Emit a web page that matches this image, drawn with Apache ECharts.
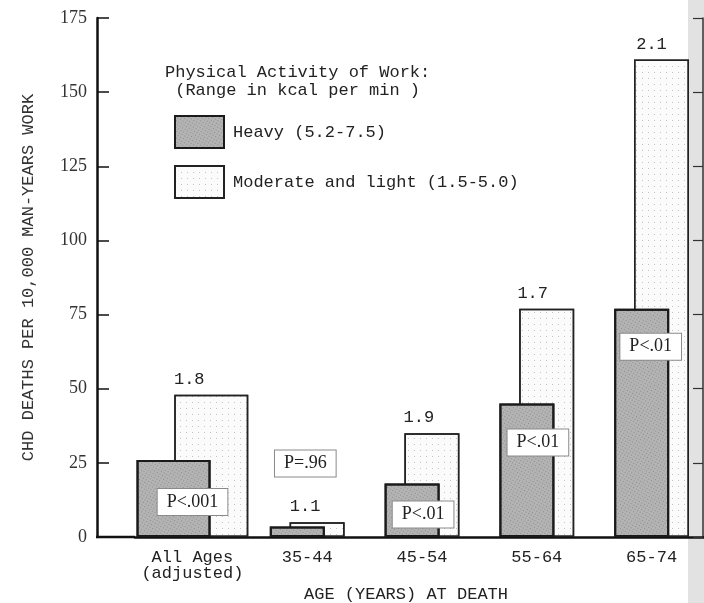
<!DOCTYPE html>
<html><head><meta charset="utf-8">
<script src="https://cdn.jsdelivr.net/npm/echarts@6/dist/echarts.min.js"></script>
<style>html,body{margin:0;padding:0;background:#fff}#c{width:704px;height:603px}</style>
</head><body><div id="c"></div>
<script>
// ---- data ----
const categories = ['All Ages\n(adjusted)', '35-44', '45-54', '55-64', '65-74'];
const heavy = [26, 3.5, 18, 45, 77];
const moderate = [48, 5, 35, 77, 161];
const ratios = ['1.8', '1.1', '1.9', '1.7', '2.1'];
const pValues = ['P<.001', 'P=.96', 'P<.01', 'P<.01', 'P<.01'];
const yMin = 0, yMax = 175, yStep = 25;
const heavyName = 'Heavy (5.2-7.5)';
const moderateName = 'Moderate and light (1.5-5.0)';

// ---- layout / style ----
const MONO = '"Liberation Mono", "DejaVu Sans Mono", monospace';
const SERIF = '"Liberation Serif", "DejaVu Serif", serif';
const gridLeft = 135, gridRight = -5, yAxisX = 97;
const pLabelOffset = [[19, 24], [8, -81], [11, 13], [11, 21], [9, 20]];
const ratioOffset = [[-22, -2], [-12, -2], [-13, -2], [-14, -2], [-10, -2]];

const heavyStyle = {
  color: '#b3b3b3', borderColor: '#1a1a1a', borderWidth: 2,
  decal: { symbol: 'rect', symbolSize: 1, dashArrayX: [1, 2], dashArrayY: [1, 2], color: 'rgba(70,70,70,0.35)' }
};
const moderateStyle = {
  color: '#fbfbfb', borderColor: '#222', borderWidth: 1.5,
  decal: { symbol: 'rect', symbolSize: 1, dashArrayX: [1, 5], dashArrayY: [1, 5], color: 'rgba(0,0,0,0.22)' }
};

function pick(arr, keepFirst) {
  return arr.map((v, i) => (keepFirst ? (i === 0 ? v : '-') : (i === 0 ? '-' : v)));
}
function pLabel(i) {
  return {
    show: true, position: 'insideTop', offset: pLabelOffset[i],
    formatter: pValues[i], backgroundColor: '#fff', borderColor: '#8a8a8a', borderWidth: 1,
    padding: [4, 9], fontFamily: SERIF, fontSize: 18, color: '#222'
  };
}
function ratioLabel(i) {
  return { show: true, position: 'top', offset: ratioOffset[i], formatter: ratios[i],
    fontFamily: MONO, fontSize: 17, color: '#222' };
}
function items(arr, keepFirst, labelFn) {
  return pick(arr, keepFirst).map((v, i) => v === '-' ? '-' : ({ value: v, label: labelFn(i) }));
}

const chart = echarts.init(document.getElementById('c'), null, { renderer: 'canvas' });
const option = {
  animation: false,
  backgroundColor: '#fff',
  aria: { enabled: true, decal: { show: true } },
  title: {
    text: 'Physical Activity of Work:\n (Range in kcal per min )',
    left: 160, top: 58,
    textStyle: { fontFamily: MONO, fontSize: 17, fontWeight: 'normal', color: '#222', lineHeight: 18 }
  },
  legend: {
    data: [heavyName, moderateName], orient: 'vertical', left: 169, top: 110,
    itemWidth: 49, itemHeight: 32, itemGap: 16, icon: 'rect',
    textStyle: { fontFamily: MONO, fontSize: 17, color: '#222', padding: [0, 0, 0, 4] }
  },
  grid: { left: gridLeft, right: gridRight, top: 18, bottom: 66, containLabel: false, outerBoundsMode: 'none' },
  xAxis: [
    {
      type: 'category', data: categories,
      axisLine: { lineStyle: { color: '#111', width: 2.5 } },
      axisTick: { show: false },
      axisLabel: { interval: 0, margin: 12, fontFamily: MONO, fontSize: 17, color: '#222', lineHeight: 16 },
      name: 'AGE (YEARS) AT DEATH', nameLocation: 'middle', nameGap: 49,
      nameTextStyle: { fontFamily: MONO, fontSize: 17, color: '#222', padding: [0, 32, 0, 0] }
    },
    { type: 'category', data: categories, show: false }
  ],
  yAxis: [
    {
      type: 'value', min: yMin, max: yMax, interval: yStep, offset: gridLeft - yAxisX,
      axisLine: { show: true, lineStyle: { color: '#111', width: 2.5 } },
      axisTick: { show: true, inside: true, length: 12, lineStyle: { color: '#111', width: 1.5 } },
      splitLine: { show: false },
      axisLabel: { margin: 10, fontFamily: SERIF, fontSize: 18, color: '#333' },
      name: 'CHD DEATHS PER 10,000 MAN-YEARS WORK', nameLocation: 'middle', nameGap: 60, nameRotate: 90,
      nameTextStyle: { fontFamily: MONO, fontSize: 17, color: '#333' }
    },
    {
      type: 'value', min: yMin, max: yMax, interval: yStep, position: 'right', offset: gridRight - 1,
      axisLine: { show: true, lineStyle: { color: '#333', width: 1.5 } },
      axisTick: { show: true, inside: true, length: 10, lineStyle: { color: '#333', width: 1.2 } },
      splitLine: { show: false }, axisLabel: { show: false }
    }
  ],
  series: [
    { name: heavyName, type: 'bar', xAxisIndex: 1, yAxisIndex: 0, z: 4, barWidth: 74, barGap: '-49%',
      itemStyle: heavyStyle, data: items(heavy, true, pLabel) },
    { name: moderateName, type: 'bar', xAxisIndex: 1, yAxisIndex: 0, z: 2, barWidth: 74,
      itemStyle: moderateStyle, data: items(moderate, true, ratioLabel) },
    { name: heavyName, type: 'bar', xAxisIndex: 0, yAxisIndex: 0, z: 4, barWidth: 55, barGap: '-64%',
      itemStyle: heavyStyle, data: items(heavy, false, pLabel) },
    { name: moderateName, type: 'bar', xAxisIndex: 0, yAxisIndex: 0, z: 2, barWidth: 55,
      itemStyle: moderateStyle, data: items(moderate, false, ratioLabel) }
  ]
};
chart.setOption(option);
const zeroY = chart.convertToPixel({ yAxisIndex: 0 }, 0);
chart.setOption({
  graphic: [
    { type: 'rect', z: -10, shape: { x: 688, y: 0, width: 16, height: 603 }, style: { fill: '#e2e2e2' } },
    { type: 'line', z: 10, shape: { x1: yAxisX - 1, y1: zeroY, x2: gridLeft, y2: zeroY },
      style: { stroke: '#111', lineWidth: 2.5 } }
  ]
});
</script>
</body></html>
